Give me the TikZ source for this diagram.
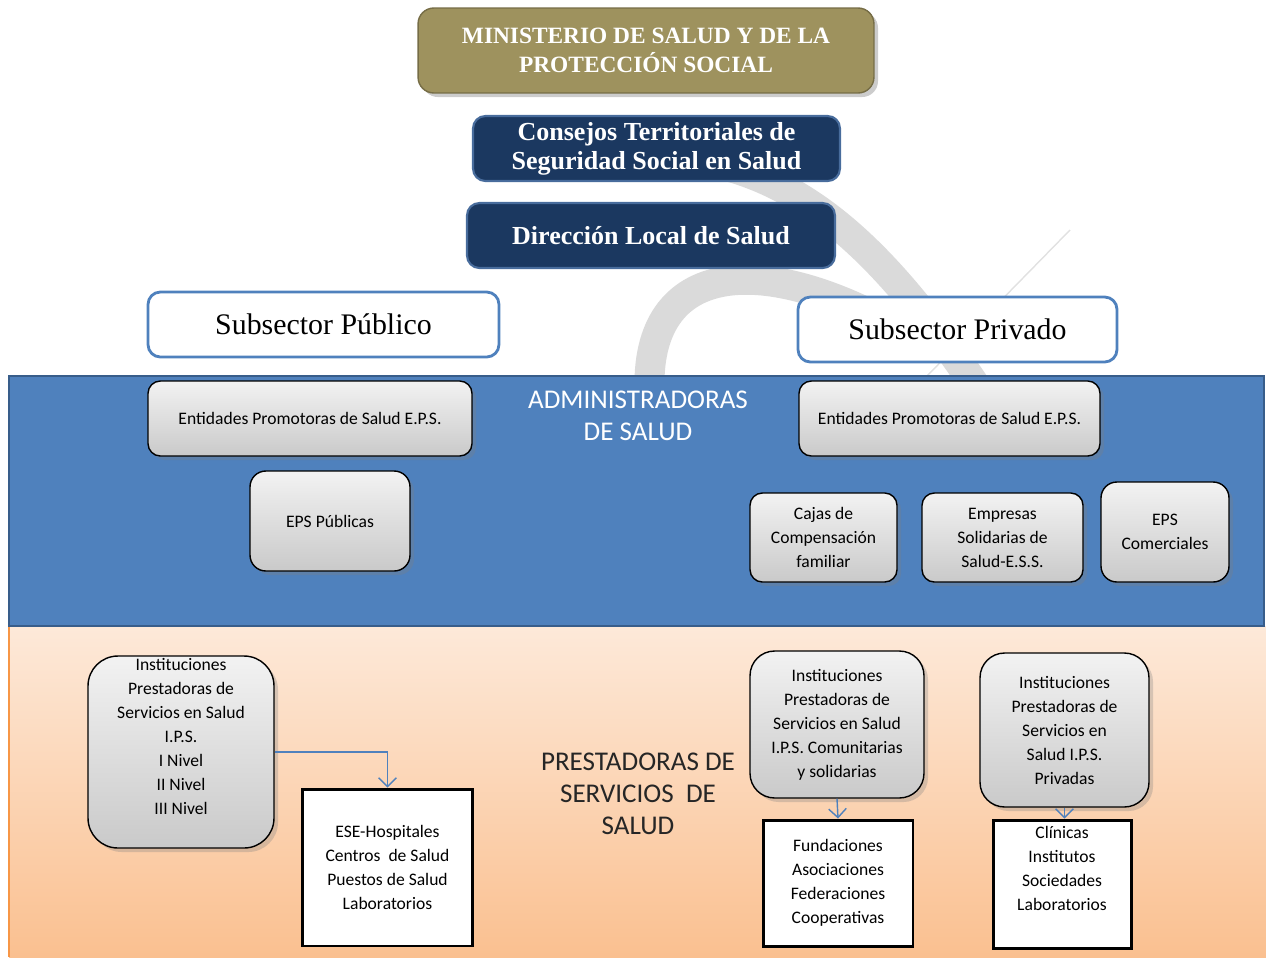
\documentclass[tikz,border=0pt]{standalone}
\usepackage{fontspec}
\setmainfont{Liberation Serif}
\newfontfamily\calibri{Carlito}
\usetikzlibrary{arrows.meta, positioning, shadows}

\definecolor{olivo}{RGB}{158,146,94}
\definecolor{marino}{RGB}{27,56,96}
\definecolor{marinoborde}{RGB}{72,108,156}
\definecolor{azul}{RGB}{79,129,189}
\definecolor{azulborde}{RGB}{56,93,138}
\definecolor{durazno}{RGB}{253,233,217}
\definecolor{naranja}{RGB}{250,192,144}
\definecolor{naranjaborde}{RGB}{247,150,70}
\definecolor{arco}{RGB}{218,218,218}

\tikzset{
  cabeza/.style={draw=olivo!75!black, line width=0.8pt, fill=olivo, rounded corners=9pt, text=white,
    font=\bfseries\fontsize{13.3}{16.5}\selectfont, align=center, inner sep=0pt,
    drop shadow={opacity=0.4}},
  consejo/.style={draw=marinoborde, line width=1.2pt, fill=marino, rounded corners=7pt, text=white,
    font=\bfseries\fontsize{14.8}{16.5}\selectfont, align=center, inner sep=0pt},
  sector/.style={draw=azul, line width=1.6pt, fill=white, rounded corners=7pt, inner sep=0pt,
    font=\fontsize{17}{20}\selectfont},
  entidad/.style={draw=black, line width=0.8pt, top color=gray!10, bottom color=gray!42,
    rounded corners=7pt, align=center, inner sep=0pt,
    font=\calibri\fontsize{10}{13.66}\selectfont, drop shadow={opacity=0.3}},
  prestador/.style={draw=black, line width=1.7pt, fill=white, align=center, inner sep=0pt,
    font=\calibri\fontsize{10}{13.66}\selectfont},
  panel/.style={align=center, font=\calibri\fontsize{15.4}{18.3}\selectfont},
  flecha/.style={draw=azul, line width=0.8pt, -{Straight Barb[length=5pt,width=10pt]}},
}

\begin{document}
\begin{tikzpicture}[x=0.02cm, y=-0.02cm]
\useasboundingbox (0,0) rectangle (1266,957);

% arcos de fondo
\draw[arco, line width=0.6cm] (700,160) .. controls (815,180) and (895,265) .. (985,400);
\draw[arco, line width=0.6cm] (650,400) .. controls (640,260) and (760,250) .. (900,330);
\draw[arco!80, line width=0.8pt] (1070,230) -- (925,378);

% paneles
\shade[top color=durazno, bottom color=naranja] (9,626) rectangle (1266,957);
\draw[naranjaborde, line width=0.8pt] (9,626) -- (9,957);
\draw[fill=azul, draw=azulborde, line width=1.2pt] (9,376) rectangle (1264,626);

% nivel nacional y local
\node[cabeza, minimum width=9.12cm, minimum height=1.70cm] (ministerio) at (646,50.5)
  {MINISTERIO DE SALUD Y DE LA\\PROTECCIÓN SOCIAL};
\node[consejo, minimum width=7.34cm, minimum height=1.30cm] (consejos) at (656.5,148.5)
  {Consejos Territoriales de\\Seguridad Social en Salud};
\node[consejo, minimum width=7.36cm, minimum height=1.30cm] (direccion) at (651,235.5)
  {Dirección Local de Salud};

% subsectores
\node[sector, minimum width=7.02cm, minimum height=1.30cm] (publico) at (323.5,324.5) {Subsector Público};
\node[sector, minimum width=6.38cm, minimum height=1.30cm] (privado) at (957.5,329.5) {Subsector Privado};

% administradoras
\node[panel, text=white] (admin) at (638,416) {ADMINISTRADORAS\\DE SALUD};
\node[entidad, minimum width=6.48cm, minimum height=1.50cm] (epspub) at (310,418.5)
  {Entidades Promotoras de Salud E.P.S.};
\node[entidad, minimum width=3.20cm, minimum height=2.00cm, rounded corners=9pt] (epspublicas) at (330,521)
  {EPS Públicas};
\node[entidad, minimum width=6.02cm, minimum height=1.50cm] (epspriv) at (949.5,418.5)
  {Entidades Promotoras de Salud E.P.S.};
\node[entidad, minimum width=2.94cm, minimum height=1.78cm] (cajas) at (823.5,537.5)
  {Cajas de\\Compensación\\familiar};
\node[entidad, minimum width=3.22cm, minimum height=1.78cm] (empresas) at (1002.5,537.5)
  {Empresas\\Solidarias de\\Salud-E.S.S.};
\node[entidad, minimum width=2.56cm, minimum height=2.00cm, rounded corners=9pt] (comerciales) at (1165,532)
  {EPS\\Comerciales};

% prestadoras
\node[panel, text=black!85] (prestadoras) at (638,794) {PRESTADORAS DE\\SERVICIOS\ \ DE\\SALUD};
\node[entidad, minimum width=3.72cm, minimum height=3.84cm, rounded corners=17pt] (ips) at (181,752)
  {Instituciones\\Prestadoras de\\Servicios en Salud\\I.P.S.\\I Nivel\\II Nivel\\III Nivel\\\strut};
\node[prestador, minimum width=3.42cm, minimum height=3.14cm] (ese) at (387.5,867.5)
  {ESE-Hospitales\\Centros\ \ de Salud\\Puestos de Salud\\Laboratorios};
\node[entidad, minimum width=3.48cm, minimum height=2.94cm, rounded corners=14pt] (ipscom) at (837,724.5)
  {Instituciones\\Prestadoras de\\Servicios en Salud\\I.P.S. Comunitarias\\y solidarias};
\node[prestador, minimum width=3.00cm, minimum height=2.52cm] (fundaciones) at (838,883)
  {Fundaciones\\Asociaciones\\Federaciones\\Cooperativas};
\node[entidad, minimum width=3.38cm, minimum height=3.08cm, rounded corners=14pt] (ipspriv) at (1064.5,730)
  {Instituciones\\Prestadoras de\\Servicios en\\Salud I.P.S.\\Privadas};
\node[prestador, minimum width=2.76cm, minimum height=2.56cm] (clinicas) at (1062,884)
  {Clínicas\\Institutos\\Sociedades\\Laboratorios\\\strut};

\draw[flecha] (ips.east) -| (ese.north);
\draw[flecha] (ipscom.south) -- (fundaciones.north);
\draw[flecha] (ipspriv.south) -- (ipspriv.south |- clinicas.north);
\end{tikzpicture}
\end{document}
